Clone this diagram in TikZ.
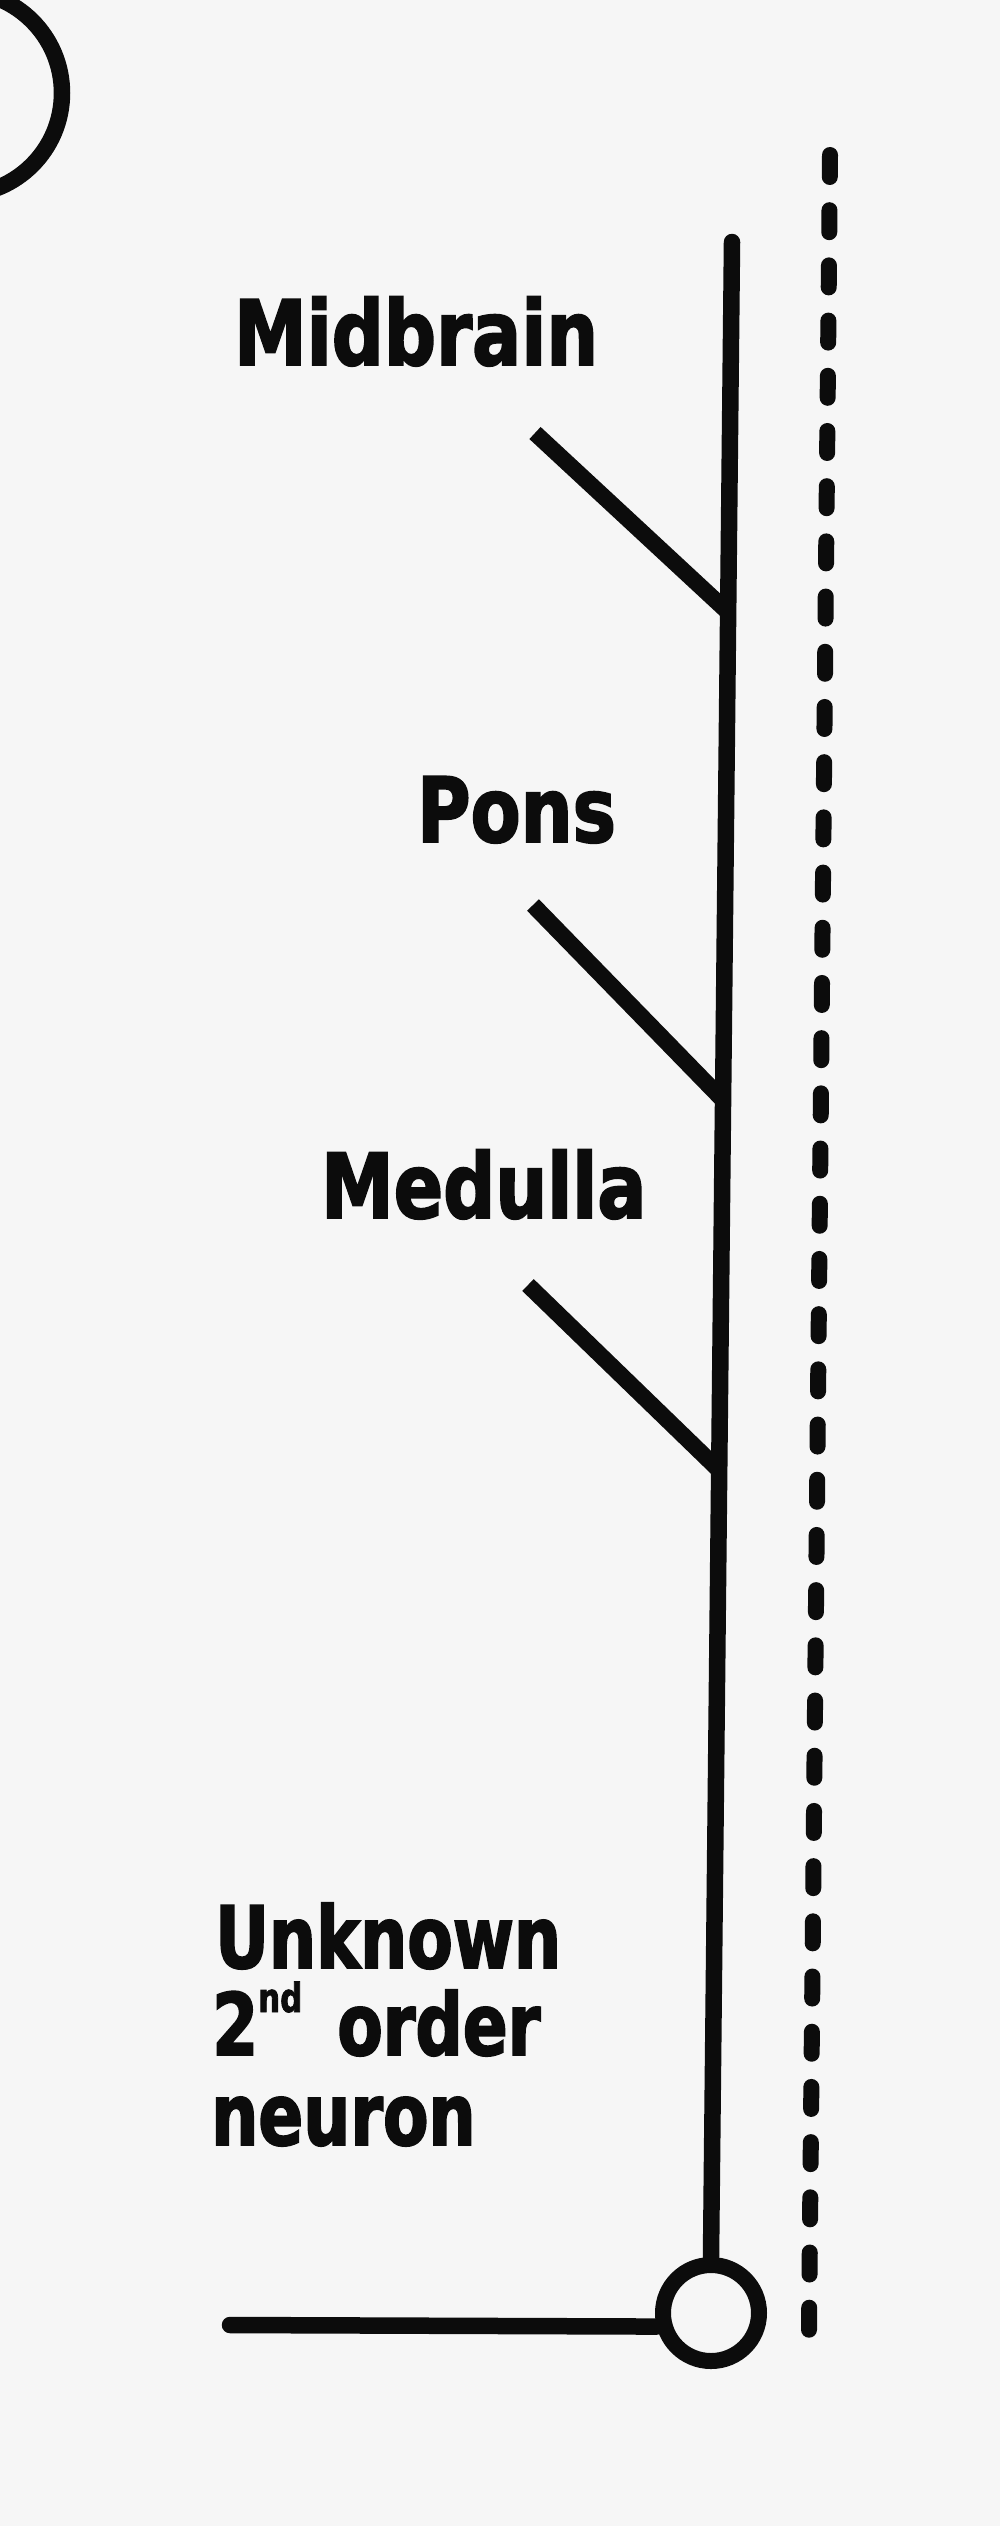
\documentclass[tikz,border=0pt]{standalone}
\usepackage{fontspec}
\newfontfamily\labfont[FakeStretch=0.81,BoldFeatures={FakeBold=2}]{DejaVu Sans}
\newfontfamily\lowfont[FakeStretch=0.77,BoldFeatures={FakeBold=2}]{DejaVu Sans}
\definecolor{bg}{RGB}{246,246,246}
\definecolor{ink}{RGB}{12,12,12}
\tikzset{
  ln/.style={line width=16.5pt, draw=ink},
  dashln/.style={line width=16pt, draw=ink, line cap=round, dash pattern=on 22pt off 33.2pt},
  soma/.style={circle, draw=ink, line width=16pt, inner sep=0pt, minimum size=96pt},
  lab/.style={inner sep=0pt, anchor=base west, text=ink, font=\labfont\bfseries\fontsize{90}{90}\selectfont},
  lowlab/.style={inner sep=0pt, anchor=base west, text=ink, font=\lowfont\bfseries\fontsize{86}{88}\selectfont}
}
\begin{document}
\begin{tikzpicture}[x=1pt,y=-1pt]
  \fill[bg] (0,0) rectangle (1000,2526);
  \useasboundingbox (0,0) rectangle (1000,2526);
  % partial outline at top left
  \begin{scope}
    \clip (0,0) rectangle (1000,2526);
    \draw[ln] (-40,93) circle[radius=102];
  \end{scope}
  % cell body and main axon
  \node[soma] (soma) at (711,2313) {};
  \coordinate (top) at (732,242);
  \draw[ln, line cap=round] (top) -- (soma.north);
  % branches
  \coordinate (mbA) at (535,433);  \coordinate (mbB) at (728,612);
  \coordinate (poA) at (533,905);  \coordinate (poB) at (723,1100);
  \coordinate (meA) at (528,1285); \coordinate (meB) at (719,1470);
  \draw[ln] (mbA) -- (mbB);
  \draw[ln] (poA) -- (poB);
  \draw[ln] (meA) -- (meB);
  % input line
  \coordinate (hl) at (230,2325);
  \draw[ln, line cap=round] (hl) -- (soma.194);
  % dashed midline
  \coordinate (dt) at (830,155);
  \coordinate (db) at (809,2330);
  \draw[dashln] (dt) -- (db);
  % labels
  \node[lab] (mid) at (234,365) {Midbrain};
  \node[lab] (pons) at (417,842) {Pons};
  \node[lab] (med) at (321,1218) {Medulla};
  \node[lowlab] (unk1) at (215,1968) {Unknown};
  \node[lowlab] (unk2) at (212,2055) {2\smash{\raisebox{43pt}{\fontsize{40}{40}\selectfont nd}}\hspace{12pt} order};
  \node[lowlab] (unk3) at (211,2145) {neuron};
\end{tikzpicture}
\end{document}
